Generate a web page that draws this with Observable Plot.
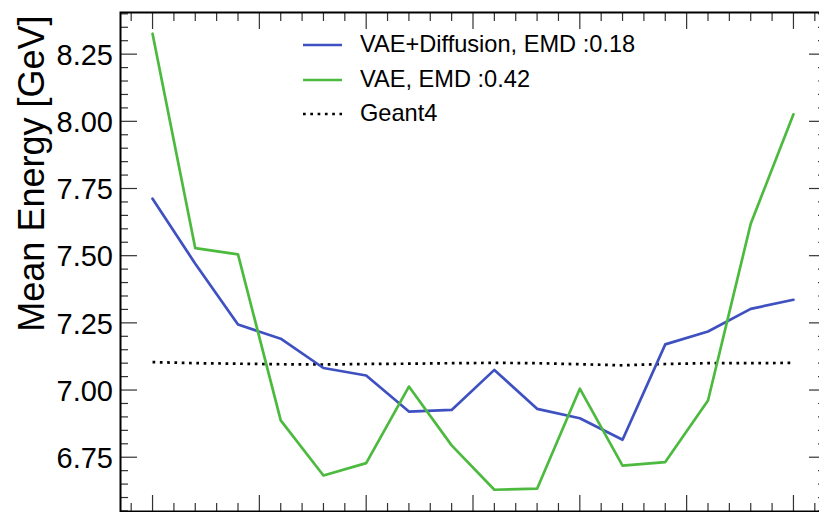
<!DOCTYPE html>
<html>
<head>
<meta charset="utf-8">
<script src="https://cdn.jsdelivr.net/npm/d3@7"></script>
<script src="https://cdn.jsdelivr.net/npm/@observablehq/plot@0.6"></script>
<style>
  html, body { margin: 0; padding: 0; background: #fff; overflow: hidden; }
  #chart { position: relative; width: 819px; height: 512px; font-family: "Liberation Sans", Arial, Helvetica, sans-serif; }
  #chart > svg { display: block; }
  .legend { position: absolute; left: 303px; top: 27.75px; font-size: 23.6px; color: #000; line-height: 1; }
  .legend .row { display: flex; align-items: center; height: 34.5px; white-space: nowrap; }
  .legend .row svg { width: 39px; height: 6px; margin-right: 18px; flex: none; }
</style>
</head>
<body>
<div id="chart"></div>
<script>
// Mean shower energy per bin for the two generators and the Geant4 reference
const bins = [0, 2, 4, 6, 8, 10, 12, 14, 16, 18, 20, 22, 24, 26, 28, 30];
const vaeDiffusion = [7.712, 7.470, 7.244, 7.191, 7.082, 7.054, 6.920, 6.926, 7.075, 6.930, 6.895, 6.815, 7.170, 7.218, 7.302, 7.336];
const vae = [8.326, 7.528, 7.505, 6.887, 6.682, 6.728, 7.013, 6.794, 6.629, 6.633, 7.005, 6.719, 6.732, 6.961, 7.619, 8.026];
const geant4 = [7.104, 7.100, 7.098, 7.096, 7.095, 7.097, 7.098, 7.100, 7.101, 7.100, 7.096, 7.092, 7.097, 7.100, 7.100, 7.101];

const seriesNames = ["VAE+Diffusion, EMD :0.18", "VAE, EMD :0.42", "Geant4"];
const seriesColors = ["#3f51c0", "#4cba3e", "#000000"];

// Tick positions
const yMajor = [6.75, 7.00, 7.25, 7.50, 7.75, 8.00, 8.25];
const yMinor = d3.range(131, 169).map(k => k * 0.05).filter(v => !yMajor.some(m => Math.abs(m - v) < 1e-6));
const xMajor = [0, 5, 10, 15, 20, 25, 30];
const xMinor = d3.range(-1, 32).filter(v => v % 5 !== 0);

const yLabel = "Mean Energy [GeV]";

const table = (values, name) => bins.map((b, i) => ({bin: b, energy: values[i], series: name}));
const rowsDiff = table(vaeDiffusion, seriesNames[0]);
const rowsVae = table(vae, seriesNames[1]);
const rowsG4 = table(geant4, seriesNames[2]);

const tickStyle = {stroke: "#333", strokeWidth: 1.2, fill: "none", label: null};

const chart = Plot.plot({
  width: 819,
  height: 512,
  marginLeft: 120,
  marginTop: 12,
  marginRight: -6,
  marginBottom: 1,
  x: {domain: [-1.5, 31.5]},
  y: {domain: [6.548, 8.405]},
  style: {fontFamily: '"Liberation Sans", Arial, Helvetica, sans-serif', background: "white", color: "black"},
  marks: [
    // inward major / minor ticks on all four sides
    Plot.axisY(yMajor, {anchor: "left", tickSize: -17, ...tickStyle}),
    Plot.axisY(yMinor, {anchor: "left", tickSize: -8, ...tickStyle}),
    Plot.axisY(yMajor, {anchor: "right", tickSize: -17, ...tickStyle}),
    Plot.axisY(yMinor, {anchor: "right", tickSize: -8, ...tickStyle}),
    Plot.axisX(xMajor, {anchor: "top", tickSize: -16, ...tickStyle}),
    Plot.axisX(xMinor, {anchor: "top", tickSize: -8, ...tickStyle}),
    Plot.axisX(xMajor, {anchor: "bottom", tickSize: -16, ...tickStyle}),
    Plot.axisX(xMinor, {anchor: "bottom", tickSize: -8, ...tickStyle}),
    // y tick labels
    Plot.axisY(yMajor, {anchor: "left", tickSize: 0, tickPadding: 7.5, stroke: "none", fill: "black", fontSize: 29, dy: 1.5, tickFormat: d3.format(".2f"), label: null}),
    // series
    Plot.line(rowsG4, {x: "bin", y: "energy", stroke: seriesColors[2], strokeWidth: 2.7, strokeDasharray: "2.7,4.6", strokeLinecap: "butt"}),
    Plot.line(rowsDiff, {x: "bin", y: "energy", stroke: seriesColors[0], strokeWidth: 2.7}),
    Plot.line(rowsVae, {x: "bin", y: "energy", stroke: seriesColors[1], strokeWidth: 2.7}),
    Plot.frame({stroke: "black", strokeWidth: 2}),
    // y axis title, aligned with the top of the frame
    Plot.text([yLabel], {frameAnchor: "top-left", rotate: -90, textAnchor: "end", lineAnchor: "bottom", dx: -76.5, dy: 3, fontSize: 36, fill: "black"})
  ]
});

const root = document.getElementById("chart");
root.appendChild(chart);

// legend
const legend = document.createElement("div");
legend.className = "legend";
seriesNames.forEach((name, i) => {
  const row = document.createElement("div");
  row.className = "row";
  const dotted = i === 2;
  row.innerHTML =
    `<svg viewBox="0 0 39 6"><line x1="0" x2="39" y1="3" y2="3" stroke="${seriesColors[i]}" stroke-width="${dotted ? 2.7 : 2.7}"${dotted ? ' stroke-dasharray="2.7,4.6"' : ""}/></svg><span>${name}</span>`;
  legend.appendChild(row);
});
root.appendChild(legend);
</script>
</body>
</html>
